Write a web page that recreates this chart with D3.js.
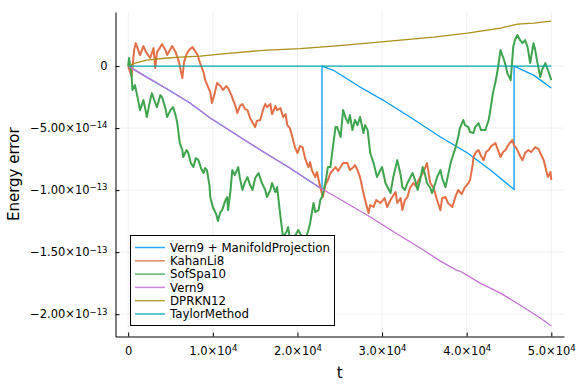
<!DOCTYPE html>
<html>
<head>
<meta charset="utf-8">
<script src="https://cdn.jsdelivr.net/npm/d3@7"></script>
<style>
  body { margin: 0; background: #fff; }
  svg { display: block; font-family: "DejaVu Sans", sans-serif; }
</style>
</head>
<body>
<div id="chart"></div>
<script>
// energy error values below are in units of 1e-14
const UNIT = 1e-14;

const seriesNames = ["Vern9 + ManifoldProjection", "KahanLi8", "SofSpa10", "Vern9", "DPRKN12", "TaylorMethod"];
const colors = ["#009AFA", "#E36F47", "#3EA44E", "#C371D2", "#AC8E18", "#00AAAE"];

const xTicks = [0, 10000, 20000, 30000, 40000, 50000];
const xTickLabels = [["0", ""], ["1.0×10", "4"], ["2.0×10", "4"], ["3.0×10", "4"], ["4.0×10", "4"], ["5.0×10", "4"]];
const yTicks = [0, -5e-14, -1e-13, -1.5e-13, -2e-13];
const yTickLabels = [["0", ""], ["−5.00×10", "−14"], ["−1.00×10", "−13"], ["−1.50×10", "−13"], ["−2.00×10", "−13"]];

// first stretch coincides with Vern9 (hidden under it), then projection resets to 0
const vern9Proj = [[0,0],[2600,-1.05],[4600,-1.85],[7300,-2.98],[9700,-4.19],[13200,-5.72],[16000,-6.93],[19100,-8.22],[22700,-9.83],[22900,-9.92],[22900,0],[24200,-0.32],[27400,-1.69],[30100,-2.74],[33300,-4.11],[36900,-5.72],[40100,-7.01],[42800,-8.38],[45600,-9.95],[45600,0],[47900,-0.73],[50000,-1.77]];

const kahanLi8 = [[0,0],[400,-0.81],[700,1.29],[900,1.85],[1400,0.89],[1800,1.61],[2100,1.13],[2600,0.65],[3000,1.45],[3200,-0.16],[3400,1.13],[3800,1.53],[4000,1.77],[4400,1.29],[4600,0.89],[5000,1.37],[5200,1.61],[5600,1.13],[5800,0.73],[6000,0.32],[6400,-0.97],[6600,0.32],[6900,0.97],[7200,1.29],[7600,1.53],[7900,1.21],[8200,0.89],[8500,0.24],[8900,-0.48],[9100,-1.13],[9500,-1.77],[9700,-2.10],[9900,-2.98],[10200,-2.26],[10500,-1.37],[10900,-1.61],[11200,-1.93],[11600,-1.61],[11800,-1.77],[12200,-2.34],[12400,-2.74],[12600,-3.06],[12900,-3.79],[13200,-3.22],[13500,-3.06],[13800,-3.47],[14100,-3.55],[14400,-4.19],[14800,-4.68],[15000,-4.92],[15200,-4.43],[15600,-4.35],[16000,-3.39],[16200,-3.06],[16400,-3.31],[16800,-3.06],[17000,-3.87],[17400,-3.22],[17600,-3.55],[18000,-3.39],[18300,-4.11],[18600,-3.87],[18800,-4.76],[19100,-5.00],[19400,-5.72],[19700,-6.53],[20000,-7.01],[20300,-6.45],[20600,-6.53],[20900,-7.42],[21300,-8.14],[21500,-7.74],[21700,-8.38],[22100,-8.95],[22300,-8.54],[22700,-9.75],[23000,-10.56],[23300,-9.59],[23600,-9.19],[23900,-8.62],[24200,-8.38],[24500,-8.14],[24800,-8.46],[25100,-8.14],[25400,-7.82],[25900,-7.82],[26200,-8.38],[26500,-8.22],[26800,-7.98],[27100,-8.38],[27400,-8.95],[27800,-10.24],[28000,-10.80],[28400,-11.85],[28600,-11.20],[29000,-11.36],[29300,-10.80],[29800,-11.04],[30300,-10.64],[30600,-11.36],[31000,-10.80],[31200,-10.56],[31600,-10.16],[31800,-11.04],[32200,-10.64],[32400,-11.61],[32700,-10.80],[33000,-10.56],[33300,-9.83],[33700,-9.43],[34000,-9.67],[34500,-8.95],[34900,-8.54],[35300,-7.82],[35700,-9.43],[36100,-9.83],[36500,-10.80],[36900,-11.61],[37100,-10.64],[37500,-10.56],[37800,-11.04],[38300,-11.36],[38700,-10.48],[39000,-9.99],[39400,-10.32],[39800,-9.75],[40200,-9.43],[40400,-9.19],[40700,-7.98],[40800,-7.33],[41100,-6.93],[41400,-6.77],[41700,-7.25],[42000,-7.58],[42300,-6.93],[42600,-6.77],[42900,-6.45],[43400,-6.21],[43700,-6.77],[44000,-7.33],[44300,-6.93],[44600,-6.77],[44900,-6.37],[45400,-5.96],[45600,-6.37],[46000,-6.77],[46300,-7.25],[46600,-7.58],[46900,-7.01],[47300,-6.77],[47600,-6.93],[48100,-6.53],[48500,-6.69],[48700,-7.01],[49100,-7.58],[49300,-8.14],[49600,-8.95],[49900,-8.54],[50000,-9.19]];

const sofSpa10 = [[0,0],[100,0.65],[400,-0.73],[500,-1.93],[800,-1.53],[1100,-2.50],[1400,-3.55],[1800,-2.74],[2000,-3.39],[2200,-4.11],[2600,-2.74],[2800,-2.18],[3200,-2.98],[3400,-3.31],[3800,-2.34],[4000,-2.50],[4400,-3.39],[4600,-4.11],[5000,-3.55],[5300,-3.31],[5600,-3.95],[5800,-4.60],[6100,-6.21],[6400,-6.77],[6500,-7.33],[6900,-6.77],[7100,-7.01],[7400,-7.82],[7700,-8.14],[8000,-7.42],[8300,-7.58],[8600,-8.22],[8900,-8.62],[9100,-8.22],[9300,-8.38],[9600,-9.59],[9700,-10.56],[10000,-11.36],[10400,-11.93],[10600,-12.49],[10900,-11.77],[11100,-11.61],[11500,-10.80],[11700,-10.56],[11800,-11.61],[12100,-9.99],[12300,-8.38],[12600,-8.79],[13000,-8.14],[13200,-9.03],[13500,-9.99],[13800,-9.35],[14100,-8.95],[14400,-9.59],[14700,-9.99],[15000,-9.03],[15400,-8.62],[15600,-9.03],[15800,-9.43],[16200,-9.99],[16400,-10.56],[16800,-9.99],[17000,-9.43],[17400,-10.16],[17600,-9.75],[18000,-12.17],[18300,-13.78],[18700,-13.38],[18900,-12.98],[19100,-13.86],[19400,-14.43],[19700,-13.70],[20100,-13.22],[20600,-13.86],[20900,-14.02],[21300,-13.22],[21500,-12.65],[21900,-11.04],[22100,-11.77],[22500,-11.61],[22700,-10.80],[22900,-10.56],[23300,-9.43],[23600,-8.14],[23900,-8.14],[24100,-7.01],[24500,-4.92],[24700,-4.92],[25100,-5.72],[25400,-3.55],[25700,-4.19],[26000,-4.60],[26200,-3.95],[26500,-5.16],[26800,-4.35],[27100,-4.76],[27400,-4.11],[27800,-5.40],[28000,-4.76],[28300,-5.16],[28600,-7.01],[29000,-7.82],[29200,-8.38],[29400,-8.95],[29800,-8.38],[30000,-8.14],[30400,-9.43],[30700,-9.83],[31000,-10.24],[31300,-9.03],[31800,-7.58],[32200,-8.79],[32400,-9.75],[32700,-9.99],[33000,-9.43],[33300,-9.03],[33600,-8.62],[33900,-9.19],[34200,-9.99],[34500,-9.19],[34800,-8.14],[35100,-8.79],[35300,-9.43],[35700,-9.83],[35900,-10.24],[36300,-9.43],[36500,-8.95],[36900,-8.38],[37100,-9.03],[37500,-9.75],[37800,-8.79],[38100,-7.82],[38400,-7.17],[38700,-6.53],[39000,-5.72],[39200,-5.00],[39600,-4.35],[39800,-4.76],[40200,-4.92],[40400,-5.32],[40800,-5.40],[41000,-4.92],[41400,-4.60],[41700,-5.16],[42200,-5.16],[42600,-4.35],[42800,-3.55],[43100,-2.18],[43400,-1.29],[43600,-0.56],[44000,1.29],[44200,0.89],[44300,0.73],[44600,0.08],[44800,-0.56],[45200,-1.13],[45500,1.53],[45700,2.10],[46000,2.50],[46300,2.10],[46600,1.85],[46900,2.10],[47200,1.53],[47500,0.24],[47900,1.85],[48100,1.29],[48300,0.48],[48700,-0.89],[48900,-0.32],[49300,0.24],[49600,-0.32],[50000,-1.13]];

const vern9 = [[0,0],[2600,-1.05],[4600,-1.85],[7300,-2.98],[9700,-4.19],[13200,-5.72],[16000,-6.93],[19100,-8.22],[22700,-9.83],[25600,-10.96],[28600,-12.17],[31600,-13.46],[34500,-14.67],[36900,-15.72],[38800,-16.45],[39400,-16.60],[41600,-17.50],[44000,-18.30],[46300,-19.26],[48700,-20.31],[50000,-20.96]];

const dprkn12 = [[0,0],[800,0.24],[2200,0.48],[4600,0.65],[6100,0.73],[8500,0.81],[12100,1.05],[16400,1.29],[20300,1.41],[24200,1.61],[28300,1.85],[32200,2.10],[36100,2.34],[40100,2.66],[44000,3.06],[46000,3.39],[47900,3.47],[50000,3.63]];

const taylorMethod = [[0,0],[50000,0]];

const allSeries = [vern9Proj, kahanLi8, sofSpa10, vern9, dprkn12, taylorMethod];

const width = 576, height = 384;
const plotLeft = 115.5, plotRight = 564, plotTop = 12, plotBottom = 336.5;

const svg = d3.select("#chart").append("svg")
  .attr("width", width)
  .attr("height", height);

const x = d3.scaleLinear().domain([-1500, 51500]).range([plotLeft, plotRight]);
const y = d3.scaleLinear().domain([-21.8e-14, 4.36e-14]).range([plotBottom, plotTop]);

// grid
svg.append("g")
  .selectAll("line")
  .data(xTicks)
  .join("line")
  .attr("x1", d => x(d)).attr("x2", d => x(d))
  .attr("y1", plotTop).attr("y2", plotBottom)
  .attr("stroke", "#000").attr("stroke-opacity", 0.1).attr("stroke-width", 0.6);

svg.append("g")
  .selectAll("line")
  .data(yTicks)
  .join("line")
  .attr("x1", plotLeft).attr("x2", plotRight)
  .attr("y1", d => y(d)).attr("y2", d => y(d))
  .attr("stroke", "#000").attr("stroke-opacity", 0.1).attr("stroke-width", 0.6);

// series
const line = d3.line()
  .x(d => x(d[0]))
  .y(d => y(d[1] * UNIT));

svg.append("g")
  .selectAll("path")
  .data(allSeries)
  .join("path")
  .attr("d", line)
  .attr("fill", "none")
  .attr("stroke", (d, i) => colors[i])
  .attr("stroke-width", (d, i) => (i === 1 || i === 2) ? 2 : 1.3)
  .attr("stroke-linejoin", "round");

// axes
function setLabels(sel, labels) {
  sel.selectAll(".tick text").each(function (d, i) {
    const t = d3.select(this);
    t.text(null);
    t.append("tspan").text(labels[i][0]);
    if (labels[i][1]) {
      t.append("tspan").attr("dy", "-0.45em").attr("font-size", 8.5).text(labels[i][1]);
    }
  });
}

const xAxis = svg.append("g")
  .attr("transform", `translate(0,${plotBottom})`)
  .call(d3.axisBottom(x).tickValues(xTicks).tickSizeInner(-4).tickSizeOuter(0).tickPadding(10));
xAxis.attr("font-family", null).attr("font-size", 11.5);
setLabels(xAxis, xTickLabels);

const yAxis = svg.append("g")
  .attr("transform", `translate(${plotLeft},0)`)
  .call(d3.axisLeft(y).tickValues(yTicks).tickSizeInner(-4).tickSizeOuter(0).tickPadding(8));
yAxis.attr("font-family", null).attr("font-size", 11.5);
setLabels(yAxis, yTickLabels);

svg.selectAll(".domain").attr("stroke", "#000");
svg.selectAll(".tick line").attr("stroke", "#000");

// axis titles
svg.append("text")
  .attr("x", (plotLeft + plotRight) / 2)
  .attr("y", 378)
  .attr("text-anchor", "middle")
  .style("font-size", "15px")
  .text("t");

svg.append("text")
  .attr("transform", `translate(19,${(plotTop + plotBottom) / 2}) rotate(-90)`)
  .attr("text-anchor", "middle")
  .style("font-size", "15px")
  .text("Energy error");

// legend
const legend = svg.append("g");
legend.append("rect")
  .attr("x", 130.5).attr("y", 235.5)
  .attr("width", 204).attr("height", 90)
  .attr("fill", "#fff").attr("stroke", "#000").attr("stroke-width", 1);

const rows = legend.selectAll("g.row")
  .data(seriesNames)
  .join("g")
  .attr("class", "row")
  .attr("transform", (d, i) => `translate(0,${247.5 + i * 13.3})`);

rows.append("line")
  .attr("x1", 135).attr("x2", 165)
  .attr("stroke", (d, i) => colors[i])
  .attr("stroke-width", 1.5)
  .attr("stroke-opacity", 0.85);

rows.append("text")
  .attr("x", 170)
  .attr("dy", "0.35em")
  .style("font-size", "11.8px")
  .text(d => d);
</script>
</body>
</html>
